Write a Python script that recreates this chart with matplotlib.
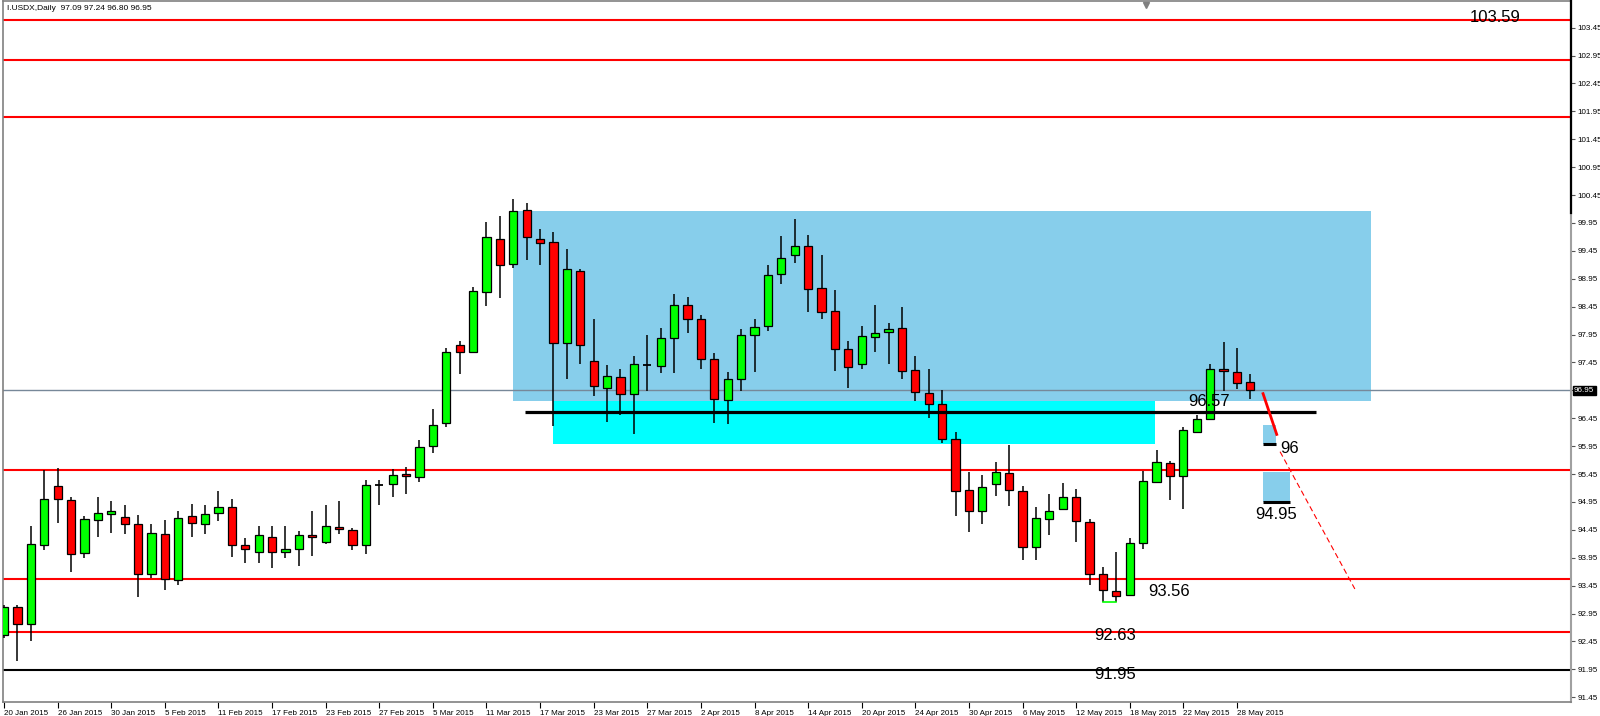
import matplotlib
matplotlib.use('Agg')
import matplotlib.pyplot as plt
from matplotlib import font_manager
from matplotlib.patches import Rectangle

_names = {f.name for f in font_manager.fontManager.ttflist}
if 'Liberation Sans Narrow' in _names:
    SMALL, SMALL_SIZE = 'Liberation Sans Narrow', 6.6
elif 'Liberation Sans' in _names:
    SMALL, SMALL_SIZE = 'Liberation Sans', 5.8
else:
    SMALL, SMALL_SIZE = 'DejaVu Sans', 5.2
BIG = 'Liberation Sans' if 'Liberation Sans' in _names else 'DejaVu Sans'

# ---------------- data ----------------
dates = ["20 Jan", "21 Jan", "22 Jan", "23 Jan", "26 Jan", "27 Jan", "28 Jan", "29 Jan", "30 Jan",
         "2 Feb", "3 Feb", "4 Feb", "5 Feb", "6 Feb", "9 Feb", "10 Feb", "11 Feb", "12 Feb", "13 Feb",
         "16 Feb", "17 Feb", "18 Feb", "19 Feb", "20 Feb", "23 Feb", "24 Feb", "25 Feb", "26 Feb", "27 Feb",
         "2 Mar", "3 Mar", "4 Mar", "5 Mar", "6 Mar", "9 Mar", "10 Mar", "11 Mar", "12 Mar", "13 Mar",
         "16 Mar", "17 Mar", "18 Mar", "19 Mar", "20 Mar", "23 Mar", "24 Mar", "25 Mar", "26 Mar", "27 Mar",
         "30 Mar", "31 Mar", "1 Apr", "2 Apr", "3 Apr", "6 Apr", "7 Apr", "8 Apr", "9 Apr", "10 Apr",
         "13 Apr", "14 Apr", "15 Apr", "16 Apr", "17 Apr", "20 Apr", "21 Apr", "22 Apr", "23 Apr", "24 Apr",
         "27 Apr", "28 Apr", "29 Apr", "30 Apr", "1 May", "4 May", "5 May", "6 May", "7 May", "8 May",
         "11 May", "12 May", "13 May", "14 May", "15 May", "18 May", "19 May", "20 May", "21 May", "22 May",
         "25 May", "26 May", "27 May", "28 May", "29 May"]
year = "2015"

opens = [92.57, 93.06, 92.76, 94.17, 95.24, 94.98, 94.04, 94.63, 94.73, 94.68,
         94.56, 93.65, 94.38, 93.55, 94.69, 94.56, 94.75, 94.86, 94.17, 94.05,
         94.32, 94.05, 94.11, 94.36, 94.24, 94.50, 94.45, 94.18, 95.26, 95.27,
         95.45, 95.39, 95.96, 96.36, 97.77, 97.63, 98.72, 99.67, 99.21, 100.18,
         99.67, 99.60, 97.79, 99.09, 97.48, 97.00, 97.18, 96.88, 97.40, 97.38,
         97.89, 98.47, 98.22, 97.51, 96.78, 97.15, 97.95, 98.10, 99.04, 99.37,
         99.53, 98.78, 98.37, 97.69, 97.42, 97.91, 98.00, 98.07, 97.31, 96.91,
         96.71, 96.07, 95.16, 94.79, 95.27, 95.47, 95.15, 94.14, 94.65, 94.83,
         95.03, 94.59, 93.66, 93.36, 93.29, 94.21, 95.31, 95.64, 95.42, 96.20,
         96.43, 97.34, 97.27, 97.09]
highs = [93.10, 93.10, 94.51, 95.52, 95.55, 95.04, 94.70, 95.03, 94.96, 94.90,
         94.72, 94.55, 94.63, 94.78, 94.91, 94.90, 95.15, 95.00, 94.30, 94.51,
         94.51, 94.51, 94.43, 94.78, 94.90, 94.97, 94.49, 95.34, 95.34, 95.54,
         95.58, 96.06, 96.61, 97.71, 97.83, 98.81, 99.97, 100.07, 100.37, 100.30,
         99.84, 99.79, 99.48, 99.12, 98.23, 97.40, 97.34, 97.57, 97.94, 98.07,
         98.68, 98.62, 98.30, 97.61, 97.27, 98.04, 98.23, 99.20, 99.72, 100.02,
         99.73, 99.37, 98.75, 97.83, 98.10, 98.47, 98.15, 98.44, 97.57, 97.33,
         96.96, 96.20, 95.48, 95.43, 95.67, 95.97, 95.24, 94.85, 95.10, 95.28,
         95.18, 94.64, 93.78, 94.06, 94.30, 95.51, 95.88, 95.68, 96.29, 96.51,
         97.42, 97.82, 97.70, 97.24]
lows = [92.51, 92.10, 92.46, 94.08, 94.57, 93.70, 93.94, 94.33, 94.40, 94.38,
        93.25, 93.58, 93.38, 93.46, 94.33, 94.38, 94.61, 93.96, 93.86, 93.86,
        93.76, 93.94, 93.80, 93.98, 94.20, 94.38, 94.09, 94.02, 94.89, 95.03,
        95.09, 95.30, 95.82, 96.29, 97.24, 97.62, 98.46, 98.61, 99.15, 99.29,
        99.20, 96.31, 97.15, 97.42, 96.84, 96.39, 96.51, 96.16, 96.94, 97.26,
        97.26, 97.98, 97.33, 96.36, 96.34, 96.94, 97.27, 98.02, 98.85, 99.24,
        98.36, 98.22, 97.29, 97.00, 97.33, 97.63, 97.43, 97.15, 96.75, 96.46,
        96.01, 94.69, 94.41, 94.55, 95.06, 94.88, 93.90, 93.90, 94.35, 94.81,
        94.24, 93.46, 93.16, 93.16, 93.27, 94.11, 95.28, 94.98, 94.82, 96.20,
        96.41, 96.93, 96.97, 96.80]
closes = [93.06, 92.77, 94.19, 95.00, 95.00, 94.02, 94.64, 94.75, 94.79, 94.56,
          93.66, 94.39, 93.56, 94.67, 94.58, 94.73, 94.86, 94.17, 94.11, 94.35,
          94.06, 94.11, 94.35, 94.32, 94.51, 94.46, 94.17, 95.25, 95.26, 95.43,
          95.41, 95.93, 96.33, 97.64, 97.64, 98.73, 99.69, 99.20, 100.16, 99.69,
          99.59, 97.80, 99.12, 97.77, 97.02, 97.20, 96.89, 97.43, 97.40, 97.89,
          98.47, 98.22, 97.51, 96.79, 97.16, 97.95, 98.09, 99.02, 99.33, 99.53,
          98.76, 98.35, 97.69, 97.37, 97.92, 97.98, 98.05, 97.30, 96.92, 96.71,
          96.08, 95.15, 94.78, 95.21, 95.48, 95.16, 94.14, 94.67, 94.79, 95.04,
          94.60, 93.66, 93.38, 93.27, 94.21, 95.33, 95.66, 95.42, 96.23, 96.43,
          97.34, 97.30, 97.08, 96.95]

title_text = "I.USDX,Daily  97.09 97.24 96.80 96.95"
red_levels = [103.59, 102.87, 101.84, 95.53, 93.56, 92.61]
black_level = 91.94
support_level = 96.56
bid_price = 96.95
zone_blue = (38.0, 102.0, 96.765, 100.16)     # x0, x1, y0, y1
zone_cyan = (41.0, 85.9, 95.985, 96.765)
target1_box = (93.95, 94.95, 95.98, 96.32)
target2_box = (93.95, 95.95, 94.945, 95.48)
trend_solid = ([93.95, 94.97], [96.89, 96.16])
trend_dash = ([95.22, 100.8], [95.85, 93.39])
low_bracket = ([82.0, 83.0], [93.16, 93.16])
labels = [("103.59", 109.4, 103.63), ("96.57", 88.37, 96.75), ("96", 95.2, 95.90),
          ("94.95", 93.36, 94.73), ("93.56", 85.39, 93.34), ("92.63", 81.36, 92.55),
          ("91.95", 81.36, 91.86)]
yticks = [91.45 + 0.5 * k for k in range(25)]

# ---------------- figure ----------------
fig = plt.figure(figsize=(16, 7.16), dpi=100)
ax = fig.add_axes([3 / 1600, 14 / 716, 1568 / 1600, 701 / 716])
ax.set_xlim(-0.08, 116.93)
ax.set_ylim(91.364, 103.927)

# zones
ax.add_patch(Rectangle((zone_blue[0], zone_blue[2]), zone_blue[1] - zone_blue[0],
                       zone_blue[3] - zone_blue[2], color='#87CEEB', lw=0, zorder=1))
ax.add_patch(Rectangle((zone_cyan[0], zone_cyan[2]), zone_cyan[1] - zone_cyan[0],
                       zone_cyan[3] - zone_cyan[2], color='#00FFFF', lw=0, zorder=1))
for bx in (target1_box, target2_box):
    ax.add_patch(Rectangle((bx[0], bx[2]), bx[1] - bx[0], bx[3] - bx[2],
                           color='#87CEEB', lw=0, zorder=1))
    ax.plot([bx[0], bx[1]], [bx[2], bx[2]], color='black', lw=2.2, zorder=5,
            solid_capstyle='butt')

# horizontal levels
for lv in red_levels:
    ax.axhline(lv, color='#FF0000', lw=1.5, zorder=2)
ax.axhline(black_level, color='black', lw=1.5, zorder=2)
ax.axhline(bid_price, color='#778899', lw=1.0, zorder=2)

# candles
idx = list(range(len(opens)))
ax.vlines(idx, lows, highs, color='black', lw=1.1, zorder=3)
bw = 0.62
for i in idx:
    o, c = opens[i], closes[i]
    if abs(c - o) < 1e-9:
        ax.plot([i - bw / 2, i + bw / 2], [o, o], color='black', lw=1.3, zorder=4,
                solid_capstyle='butt')
        continue
    col = '#00FF00' if c > o else '#FF0000'
    ax.add_patch(Rectangle((i - bw / 2, min(o, c)), bw, abs(c - o), facecolor=col,
                           edgecolor='black', lw=0.9, zorder=4))

# support line
ax.plot([38.9, 97.9], [support_level, support_level], color='black', lw=2.3, zorder=5,
        solid_capstyle='butt')

# trend lines
ax.plot(*trend_solid, color='#FF0000', lw=2.0, zorder=5)
ax.plot(*trend_dash, color='#FF0000', lw=0.8, ls=(0, (5, 3)), zorder=5)
ax.plot(*low_bracket, color='#00FF00', lw=1.2, zorder=5)

# labels
for s, x, y in labels:
    ax.text(x, y, s, fontsize=12, family=BIG, color='black', ha='left', va='center',
            zorder=6, clip_on=False)

# shift marker
ax.plot([85.2], [103.86], marker='v', ms=5, color='#808080', clip_on=False, zorder=6)

# axes styling
for sp in ('left', 'top', 'bottom'):
    ax.spines[sp].set_color('#808080')
    ax.spines[sp].set_linewidth(1.2)
ax.spines['right'].set_color('#A0A0A0')
ax.spines['right'].set_linewidth(1.5)
ax.plot([116.93, 116.93], [100.13, 103.927], color='black', lw=1.6, clip_on=False, zorder=7)

ax.yaxis.tick_right()
ax.set_yticks(yticks)
# the tick at the current price is covered by the price box, as in the terminal
ax.set_yticklabels(["" if abs(v - bid_price) < 1e-6 else f"{v:.2f}" for v in yticks],
                   family=SMALL, fontsize=SMALL_SIZE)
ax.tick_params(axis='y', direction='out', length=3, width=0.8, color='#555555', pad=1.5)

xt = list(range(0, len(dates), 4))
ax.set_xticks(xt)
ax.set_xticklabels([f"{dates[i]} {year}" for i in xt], family=SMALL, fontsize=SMALL_SIZE,
                   ha='left')
ax.tick_params(axis='x', direction='out', length=4, width=0.8, color='black', pad=1.5)

# current price box
ax.annotate(f"{bid_price:.2f}", xy=(1.0, bid_price), xycoords=('axes fraction', 'data'),
            xytext=(2.2, 0), textcoords='offset points', ha='left', va='center',
            fontsize=SMALL_SIZE, family=SMALL, color='white',
            bbox=dict(boxstyle='square,pad=0.15', fc='black', ec='black'), zorder=8,
            annotation_clip=False)

# title
fig.text(7 / 1600, 1 - 8 / 716, title_text, family=SMALL, fontsize=SMALL_SIZE + 0.2,
         color='black', ha='left', va='center')

fig.savefig('out.png', dpi=100)
